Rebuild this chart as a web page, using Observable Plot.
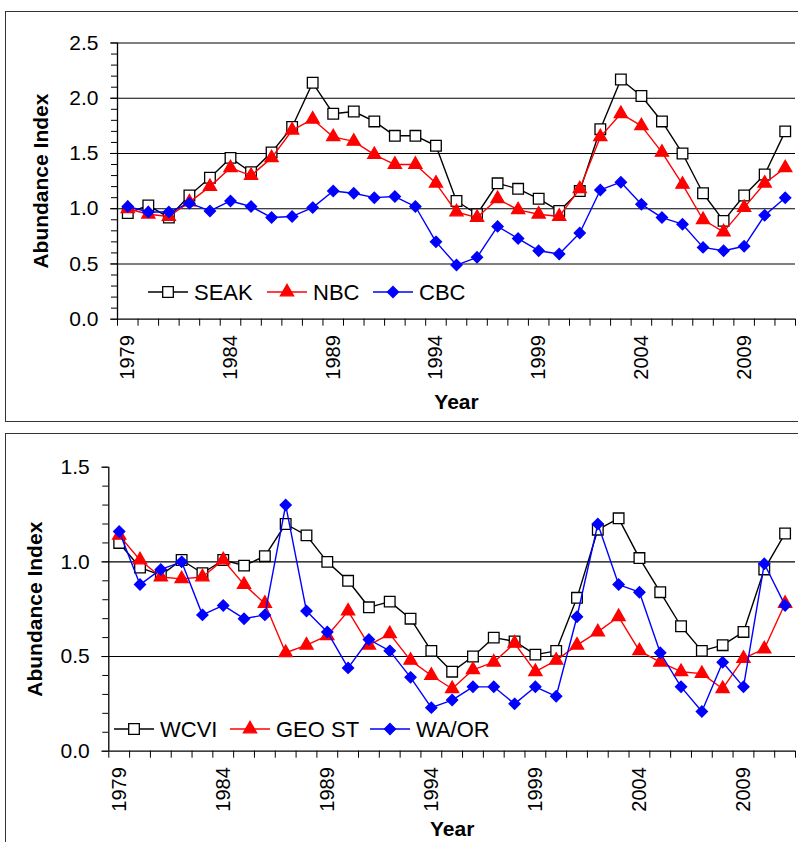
<!DOCTYPE html>
<html><head><meta charset="utf-8">
<script src="https://cdn.jsdelivr.net/npm/d3@7"></script>
<script src="https://cdn.jsdelivr.net/npm/@observablehq/plot@0.6"></script>
<style>
html,body{margin:0;padding:0;background:#fff;}
body{width:798px;height:842px;overflow:hidden;position:relative;font-family:"Liberation Sans",Arial,sans-serif;}
.frame{position:absolute;border:1.6px solid #333;left:5px;width:900px;z-index:5;pointer-events:none;background:transparent;}
#f1{top:11px;height:409px;}
#f2{top:433px;height:500px;}
.chart{position:absolute;left:0;}
#c1{top:0;}
#c2{top:433px;}
</style></head><body>
<div class="frame" id="f1"></div>
<div class="frame" id="f2"></div>
<div class="chart" id="c1"></div>
<div class="chart" id="c2"></div>
<script>
// ---- data ----
const years = [1979,1980,1981,1982,1983,1984,1985,1986,1987,1988,1989,1990,1991,1992,1993,1994,1995,1996,1997,1998,1999,2000,2001,2002,2003,2004,2005,2006,2007,2008,2009,2010,2011];
const yearTickLabels = [1979,1984,1989,1994,1999,2004,2009];

const topNames = ["SEAK","NBC","CBC"];
const seak = [0.96,1.03,0.92,1.12,1.28,1.46,1.33,1.51,1.74,2.14,1.86,1.88,1.79,1.66,1.66,1.57,1.07,0.95,1.23,1.18,1.09,0.98,1.16,1.72,2.17,2.02,1.79,1.50,1.14,0.89,1.12,1.31,1.70];
const nbc  = [1.00,0.95,0.93,1.06,1.20,1.37,1.30,1.46,1.71,1.81,1.65,1.61,1.49,1.40,1.40,1.23,0.97,0.92,1.09,0.99,0.95,0.93,1.18,1.65,1.86,1.75,1.51,1.22,0.90,0.79,1.01,1.23,1.37];
const cbc  = [1.02,0.97,0.97,1.05,0.98,1.07,1.02,0.92,0.93,1.01,1.16,1.14,1.10,1.11,1.02,0.70,0.49,0.56,0.84,0.73,0.62,0.59,0.78,1.17,1.24,1.04,0.92,0.86,0.65,0.62,0.66,0.94,1.10];

const botNames = ["WCVI","GEO ST","WA/OR"];
const wcvi  = [1.10,0.97,0.93,1.01,0.94,1.01,0.98,1.03,1.20,1.14,1.00,0.90,0.76,0.79,0.70,0.53,0.42,0.50,0.60,0.58,0.51,0.53,0.81,1.17,1.23,1.02,0.84,0.66,0.53,0.56,0.63,0.96,1.15];
const geost = [1.14,1.01,0.92,0.91,0.92,1.01,0.88,0.78,0.52,0.56,0.61,0.74,0.56,0.62,0.48,0.40,0.33,0.43,0.47,0.57,0.42,0.48,0.56,0.63,0.71,0.53,0.47,0.42,0.41,0.33,0.49,0.54,0.78];
const waor  = [1.16,0.88,0.96,1.00,0.72,0.77,0.70,0.72,1.30,0.74,0.63,0.44,0.59,0.53,0.39,0.23,0.27,0.34,0.34,0.25,0.34,0.29,0.71,1.20,0.88,0.84,0.52,0.34,0.21,0.47,0.34,0.99,0.77];

const topYTicks = [0,0.5,1.0,1.5,2.0,2.5];
const topGrid = [0.5,1.0,1.5,2.0,2.5];
const botYTicks = [0,0.5,1.0,1.5];
const botGrid = [0.5,1.0];

// ---- styles ----
const styles = [
  {stroke:"#000000", fill:"#ffffff", symbol:"square",   r:6.0},
  {stroke:"#ff0000", fill:"#ff0000", symbol:"triangle", r:4.9},
  {stroke:"#0000ff", fill:"#0000ff", symbol:"diamond2", r:5.0}
];
const FONT = "Liberation Sans, Arial, sans-serif";

function panel(el, names, series, yTicks, grid, o) {
  const data = names.flatMap((n,k) => years.map((yr,i) => ({name:n, k, year:yr, value:series[k][i]})));
  const xDom = [years[0]-0.5, years[years.length-1]+0.5];
  const bounds = [...years.map(y => y-0.5), years[years.length-1]+0.5];
  const yMax = yTicks[yTicks.length-1];
  const minor = d3.range(0, Math.round(yMax*10)+1).map(i => i/10);
  const marks = [
    Plot.gridY(grid, {stroke:"#000", strokeOpacity:1, strokeWidth:1.1}),
    Plot.ruleY([0], {stroke:"#000", strokeWidth:1.3}),
    Plot.ruleX([xDom[0]], {stroke:"#000", strokeWidth:1.3}),
    Plot.axisY(minor, {tickSize:6, tickFormat:() => "", stroke:"#000", label:null}),
    Plot.axisY(yTicks, {tickSize:7, tickPadding:12, tickFormat:d3.format(".1f"), fontSize:21, fill:"#000", stroke:"#000", label:null}),
    Plot.axisX(bounds, {tickSize:7, tickFormat:() => "", stroke:"#000", label:null}),
    Plot.axisX(yearTickLabels, {tickSize:0, tickRotate:-90, tickPadding:o.xPad, fontSize:20, fill:"#000", textAnchor:"end", tickFormat:d => String(d), label:null}),
  ];
  names.forEach((n,k) => {
    const d = data.filter(r => r.k === k);
    const s = styles[k];
    marks.push(Plot.line(d, {x:"year", y:"value", stroke:s.stroke, strokeWidth:1.4}));
    marks.push(Plot.dot(d, {x:"year", y:"value", symbol:()=>s.symbol, r:s.r, fill:s.fill, stroke:s.fill === "#ffffff" ? "#000" : s.fill, strokeWidth:1.3}));
  });
  marks.push(Plot.text(["Abundance Index"], {frameAnchor:"left", dx:o.labelDx, rotate:-90, textAnchor:"middle", lineAnchor:"middle", fontSize:21, fontWeight:"bold", fill:"#000"}));
  marks.push(Plot.text(["Year"], {frameAnchor:"bottom", dy:o.yearDy, textAnchor:"middle", lineAnchor:"middle", fontSize:21, fontWeight:"bold", fill:"#000"}));

  const svg = Plot.plot({
    width:798, height:o.height,
    marginLeft:o.ml, marginRight:3, marginTop:o.mt, marginBottom:o.mb,
    style:{fontFamily:FONT, background:"transparent", color:"#000"},
    x:{type:"linear", domain:xDom, label:null},
    y:{domain:[0, yMax], label:null},
    symbol:{type:"identity"},
    marks
  });
  document.getElementById(el).appendChild(svg);

  // legend (layout only)
  const lg = d3.select(svg).append("g").attr("font-family", FONT).attr("font-size", 22).attr("text-anchor", "start");
  o.legend.forEach((L,k) => {
    const s = styles[k];
    lg.append("line").attr("x1", L.x0).attr("x2", L.x0+40).attr("y1", o.legY).attr("y2", o.legY)
      .attr("stroke", s.stroke).attr("stroke-width", 1.4);
    lg.append("path").attr("transform", `translate(${L.x0+20},${o.legY})`)
      .attr("d", d3.symbol(s.symbol === "square" ? d3.symbolSquare : s.symbol === "triangle" ? d3.symbolTriangle : d3.symbolDiamond2, Math.PI*s.r*s.r)())
      .attr("fill", s.fill).attr("stroke", s.fill === "#ffffff" ? "#000" : s.fill).attr("stroke-width", 1.3);
    lg.append("text").attr("x", L.x0+46).attr("y", o.legY).attr("dy", "0.36em").attr("fill", "#000").attr("text-anchor", "start").text(names[k]);
  });
}

panel("c1", topNames, [seak, nbc, cbc], topYTicks, topGrid, {
  height:422, ml:117, mt:42.5, mb:103.3, xPad:16, labelDx:-76, yearDy:83,
  legY:292, legend:[{x0:148},{x0:267},{x0:373}]
});
panel("c2", botNames, [wcvi, geost, waor], botYTicks, botGrid, {
  height:409, ml:108.3, mt:33.7, mb:91.3, xPad:16, labelDx:-74, yearDy:78,
  legY:729-433, legend:[{x0:114},{x0:230},{x0:370}]
});
</script>
</body></html>
